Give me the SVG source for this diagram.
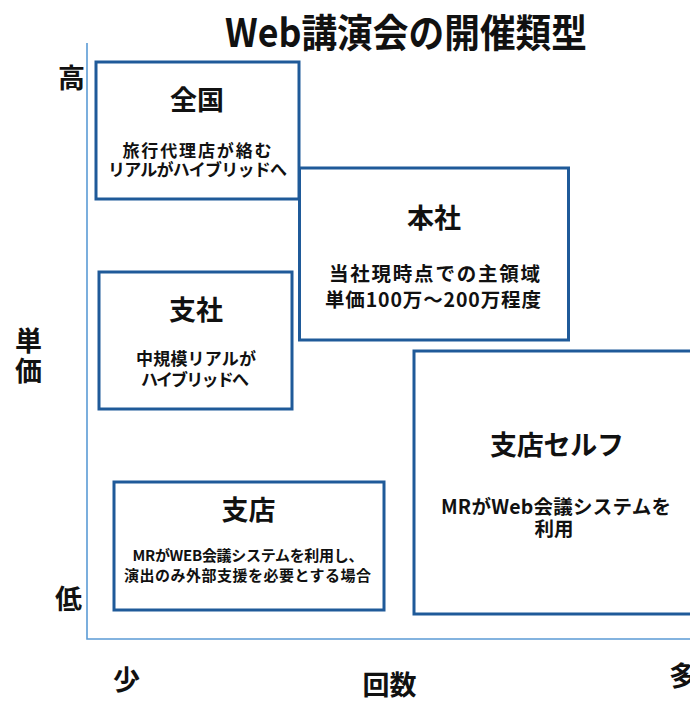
<svg xmlns="http://www.w3.org/2000/svg" width="690" height="701" viewBox="0 0 690 701">
<style>
text{font-family:"Noto Sans CJK JP","Liberation Sans",sans-serif;font-weight:bold;fill:#111;text-anchor:middle}
.box{fill:#fff;stroke:#1f5a99;stroke-width:3}
.axis{stroke:#5b9bd5;stroke-width:1.6;fill:none}
.t{font-size:27px}
.s{font-size:17px}
.l{font-size:19.5px}
.m{font-size:15px}
</style>
<rect width="690" height="701" fill="#fff"/>
<text x="406" y="47" style="font-size:39px" textLength="362" lengthAdjust="spacingAndGlyphs">Web講演会の開催類型</text>
<g id="axes">
<path class="axis" d="M87,43 V639 H690"/>
</g>
<g id="axis-labels">
<text class="t" x="71.5" y="88">高</text>
<text class="t" x="68.5" y="609">低</text>
<text class="t" x="28.5" y="351">単</text>
<text class="t" x="28.5" y="381">価</text>
<text class="t" x="126.5" y="690">少</text>
<text class="t" x="389.5" y="695">回数</text>
<text class="t" x="669" y="686" style="text-anchor:start">多</text>
</g>
<g id="node-zenkoku">
<rect class="box" x="96" y="62" width="203" height="137"/>
<text class="t" x="197" y="110">全国</text>
<text class="s" x="197" y="157" textLength="149" lengthAdjust="spacing">旅行代理店が絡む</text>
<text class="s" x="197.5" y="176" textLength="179" lengthAdjust="spacing">リアルがハイブリッドへ</text>
</g>
<g id="node-honsha">
<rect class="box" x="299.5" y="168" width="269" height="172"/>
<text class="t" x="434" y="228">本社</text>
<text class="l" x="434.5" y="281" textLength="211" lengthAdjust="spacing">当社現時点での主領域</text>
<text class="l" x="433" y="307" textLength="216" lengthAdjust="spacing">単価100万～200万程度</text>
</g>
<g id="node-shisha">
<rect class="box" x="99" y="272" width="193" height="137"/>
<text class="t" x="196" y="320">支社</text>
<text class="s" x="196" y="365" textLength="120" lengthAdjust="spacing">中規模リアルが</text>
<text class="s" x="195" y="386" textLength="108" lengthAdjust="spacing">ハイブリッドへ</text>
</g>
<g id="node-shiten">
<rect class="box" x="114" y="482" width="270" height="128"/>
<text class="t" x="248.5" y="520">支店</text>
<text class="m" x="248" y="561" textLength="231" lengthAdjust="spacing">MRがWEB会議システムを利用し、</text>
<text class="m" x="247.5" y="581" textLength="247" lengthAdjust="spacing">演出のみ外部支援を必要とする場合</text>
</g>
<g id="node-shiten-self">
<rect class="box" x="414" y="351" width="290" height="263"/>
<text class="t" x="557" y="455" textLength="134" lengthAdjust="spacing">支店セルフ</text>
<text class="l" x="556" y="514" textLength="230" lengthAdjust="spacing">MRがWeb会議システムを</text>
<text class="l" x="554" y="536" textLength="39" lengthAdjust="spacing">利用</text>
</g>
<g id="connectors"></g>
</svg>
